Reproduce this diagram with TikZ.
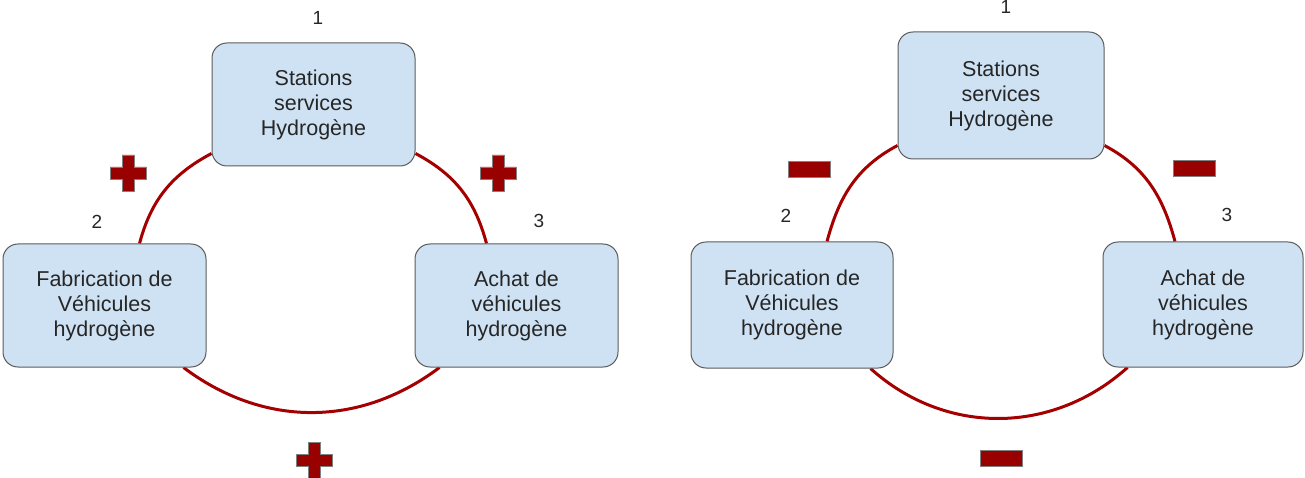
\documentclass[tikz,border=0pt]{standalone}
\usepackage{fontspec}
\setmainfont{Liberation Sans}
\usetikzlibrary{positioning,backgrounds}
\tikzset{>=stealth}
\definecolor{boxblue}{HTML}{CFE2F3}
\definecolor{boxline}{HTML}{5B5B5B}
\definecolor{loopred}{HTML}{A50000}
\definecolor{signred}{HTML}{990000}
\tikzset{
  stage/.style={draw=boxline, line width=1pt, fill=boxblue,
    rounded corners=15pt, align=center, inner sep=0pt,
    font=\fontsize{21.5}{25}\selectfont, text=black!85,
    minimum width=203pt, minimum height=123pt},
  loopline/.style={draw=loopred, line width=3pt},
  num/.style={font=\fontsize{19}{22}\selectfont, text=black!85},
  signmark/.style={fill=signred, draw=black!50, line width=0.8pt}
}
% plus and minus marks, centred on (#1,#2)
\newcommand{\plusmark}[2]{
  \draw[signmark, shift={(#1,#2)}] (-6,-18) -- (6,-18) -- (6,-6) -- (18,-6)
    -- (18,6) -- (6,6) -- (6,18) -- (-6,18) -- (-6,6) -- (-18,6) -- (-18,-6)
    -- (-6,-6) -- cycle;
}
\newcommand{\minusmark}[2]{
  \draw[signmark, shift={(#1,#2)}] (-21,-8) rectangle (21,8);
}

\begin{document}
\begin{tikzpicture}[x=1pt,y=-1pt]
      \useasboundingbox (0,0) rectangle (1305,478);

      % positive loop
      \node [stage] (hydro) at (313.5,104.5) {Stations\\services\\Hydrogène};
      \node [stage] (fab) at (104.5,305.5) {Fabrication de\\Véhicules\\hydrogène};
      \node [stage] (achat) at (516.5,305.5) {Achat de\\véhicules\\hydrogène};
      \node [num] (hydronum) at (318,18) {1};
      \node [num] (fabnum) at (97,222) {2};
      \node [num] (achatnum) at (539,221) {3};

      \begin{scope}[on background layer]
        \draw[loopline] ([yshift=13pt]hydro.south west) to[out=208,in=75]
          ([xshift=35pt]fab.north);
        \draw[loopline] ([yshift=13pt]hydro.south east) to[out=332,in=105]
          ([xshift=-30pt]achat.north);
        \draw[loopline] ([xshift=-23pt]fab.south east) to[out=-37,in=217]
          ([xshift=25pt]achat.south west);
      \end{scope}

      \plusmark{128}{173}
      \plusmark{498}{173}
      \plusmark{314}{460}

      % negative loop
      \node [stage,
        minimum width=206pt,
        minimum height=127pt
      ] (hydroB) at (1001,95.5) {Stations\\services\\Hydrogène};
      \node [stage,
        minimum width=202pt,
        minimum height=126pt
      ] (fabB) at (792,305) {Fabrication de\\Véhicules\\hydrogène};
      \node [stage,
        minimum width=200pt,
        minimum height=125pt
      ] (achatB) at (1203,304.5) {Achat de\\véhicules\\hydrogène};
      \node [num] (hydroBnum) at (1006,7) {1};
      \node [num] (fabBnum) at (786,216) {2};
      \node [num] (achatBnum) at (1227,215) {3};

      \begin{scope}[on background layer]
        \draw[loopline] ([yshift=14pt]hydroB.south west) to[out=208,in=75]
          ([xshift=35pt]fabB.north);
        \draw[loopline] ([yshift=14pt]hydroB.south east) to[out=332,in=105]
          ([xshift=-28pt]achatB.north);
        \draw[loopline] ([xshift=-23pt]fabB.south east) to[out=-42,in=222]
          ([xshift=25pt]achatB.south west);
      \end{scope}

      \minusmark{809}{169}
      \minusmark{1194}{168}
      \minusmark{1001.5}{458}
\end{tikzpicture}
\end{document}
